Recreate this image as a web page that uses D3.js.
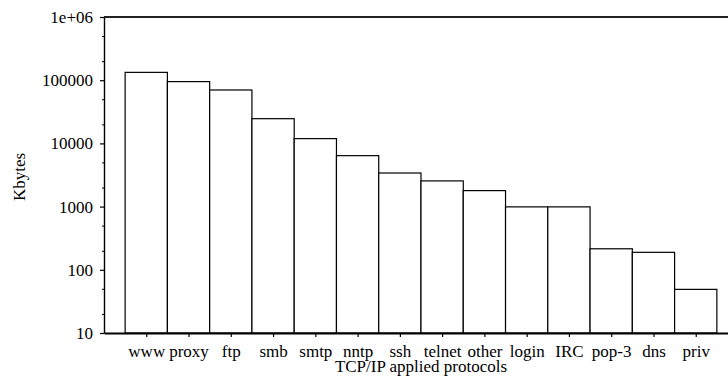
<!DOCTYPE html>
<html>
<head>
<meta charset="utf-8">
<script src="https://cdn.jsdelivr.net/npm/d3@7"></script>
<style>
  body { margin: 0; background: #fff; }
  svg { display: block; font-family: "Liberation Serif", "DejaVu Serif", serif; }
  .axis text { font-family: "Liberation Serif", serif; font-size: 17px; fill: #000; }
</style>
</head>
<body>
<svg id="chart" width="728" height="378"></svg>
<script>
// protocol traffic, log scale bars

var protocols = ['www', 'proxy', 'ftp', 'smb', 'smtp', 'nntp', 'ssh', 'telnet', 'other', 'login', 'IRC', 'pop-3', 'dns', 'priv'];
var kbytes = [133000, 95000, 70000, 24600, 11900, 6400, 3400, 2550, 1790, 990, 990, 215, 189, 49];
var majorTicks = [10, 100, 1000, 10000, 100000, 1000000];
var majorLabels = ['10', '100', '1000', '10000', '100000', '1e+06'];
var minorTicks = [20, 50, 200, 500, 2000, 5000, 20000, 50000, 200000, 500000];

var svg = d3.select('#chart');
var plotLeft = 104, plotTop = 17, plotBottom = 333, plotRight = 738;

let x = d3.scaleLinear().domain([-1, 14]).range([plotLeft, plotRight]);
let y = d3.scaleLog().domain([10, 1000000]).range([plotBottom, plotTop]);

// bars
svg.append('g')
    .selectAll('rect')
    .data(protocols)
    .enter().append('rect')
        .attr('x', function(d, i) { return x(i - 0.5); })
        .attr('width', function(d, i) { return x(i + 0.5) - x(i - 0.5); })
        .attr('y', function(d, i) { return y(kbytes[i]); })
        .attr('height', function(d, i) { return plotBottom - y(kbytes[i]); })
        .attr('fill', '#fff')
        .attr('stroke', '#000')
        .attr('stroke-width', 1.2);

// y axis, majors with labels
let yAxis = d3.axisLeft(y)
    .tickValues(majorTicks)
    .tickFormat(function(d, i) { return majorLabels[i]; })
    .tickSizeInner(4)
    .tickSizeOuter(0)
    .tickPadding(7);
let gy = svg.append('g').attr('class', 'axis')
    .attr('transform', 'translate(' + plotLeft + ',0)')
    .call(yAxis);
gy.select('.domain').attr('stroke', '#000').attr('stroke-width', 1.4);
gy.selectAll('.tick line').attr('stroke', '#000').attr('stroke-width', 1.2);

// y minor ticks
let gyMinor = svg.append('g')
    .attr('transform', 'translate(' + plotLeft + ',0)')
    .call(d3.axisLeft(y).tickValues(minorTicks).tickFormat('').tickSizeInner(2).tickSizeOuter(0));
gyMinor.select('.domain').remove();
gyMinor.selectAll('.tick line').attr('stroke', '#000').attr('stroke-width', 1);

// x axis
let xAxis = d3.axisBottom(x)
    .tickValues(d3.range(protocols.length))
    .tickFormat(function(d) { return protocols[d]; })
    .tickSizeInner(4)
    .tickSizeOuter(0)
    .tickPadding(8);
let gx = svg.append('g').attr('class', 'axis')
    .attr('transform', 'translate(0,' + plotBottom + ')')
    .call(xAxis);
gx.select('.domain').attr('stroke', '#000').attr('stroke-width', 2);
gx.selectAll('.tick line').attr('stroke', '#000').attr('stroke-width', 1.2);

// top border
svg.append('line')
    .attr('x1', plotLeft).attr('x2', plotRight)
    .attr('y1', plotTop).attr('y2', plotTop)
    .attr('stroke', '#222').attr('stroke-width', 2);

// axis titles
svg.append('text')
    .attr('x', (plotLeft + plotRight) / 2).attr('y', 372)
    .attr('text-anchor', 'middle')
    .style('font-size', '17px')
    .text('TCP/IP applied protocols');

svg.append('text')
    .attr('transform', 'translate(25,177) rotate(-90)')
    .attr('text-anchor', 'middle')
    .style('font-size', '17px')
    .text('Kbytes');
</script>
</body>
</html>
